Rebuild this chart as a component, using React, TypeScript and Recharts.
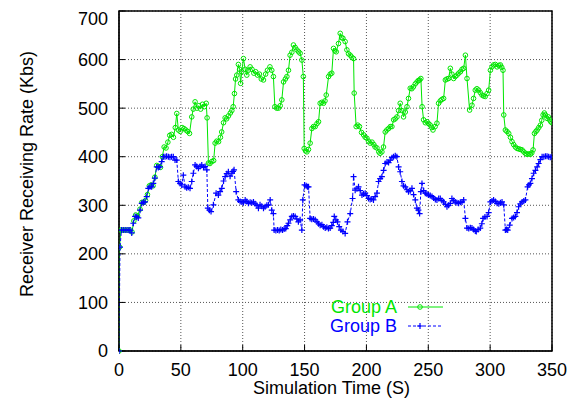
import { LineChart, Line, XAxis, YAxis, CartesianGrid, ReferenceArea } from 'recharts';

const GREEN = '#00e600';
const BLUE = '#0000ff';
const FONT = '"Liberation Sans", Arial, Helvetica, sans-serif';

const xTicks = [0, 50, 100, 150, 200, 250, 300, 350];
const yTicks = [0, 100, 200, 300, 400, 500, 600, 700];

// Group A samples (time in s, rate in Kbs)
const timeA = [
  0, 0.5, 1.5, 3, 5, 7, 9, 10.5, 12, 13.5, 15, 17, 18.5, 20, 21.5, 23, 24.5, 26, 27.5, 29,
  30.5, 32, 33.5, 35, 36.5, 38, 39.5, 41, 42.5, 44, 45.5, 46.7, 48, 49.5, 51, 52.5, 54, 55.5, 57, 58.8,
  60, 61.5, 63, 64.5, 66, 67.5, 69, 70.5, 71.2, 72.3, 73.5, 75, 76.5, 77.7, 79, 80.5, 82, 83, 84.5, 85.8,
  87, 88.5, 90, 91.2, 92.3, 93.3, 94.2, 95.2, 96.5, 97.5, 98.3, 99.2, 100.6, 102, 103.3, 104.5, 106, 107.5, 109, 110.5,
  112, 113.5, 115, 116.8, 118.5, 120, 122, 123.5, 124.8, 126, 127.5, 128.9, 130.3, 131.6, 133, 134.5, 135.7, 137, 138.3, 139.7,
  141, 142.4, 143.8, 145.2, 146.4, 147.8, 149, 149.7, 150.8, 151.9, 153.2, 154.5, 155.9, 157.2, 158.6, 160, 161.3, 162.6, 164, 165.3,
  166.5, 167.5, 169.4, 170.7, 172, 173.4, 174.5, 175.6, 177.4, 178.8, 180, 181, 182.8, 184.2, 185.5, 186.9, 188.2, 189.6, 190.1, 191.7,
  193, 194.4, 196, 197.7, 199, 200.4, 201.7, 203, 204.5, 206, 207, 208.5, 210, 211, 212.5, 213.8, 215.2, 216.5, 217.9, 219.3,
  220.6, 222, 223.3, 224.7, 226, 227.3, 228.7, 230, 231.4, 232.8, 234, 235.4, 236.7, 238, 239.5, 240.9, 242, 243, 244, 245,
  246.2, 247.6, 249, 250.3, 251.6, 252.8, 253.8, 255.5, 257, 258.3, 259.7, 261, 262.4, 263.8, 265.1, 266.4, 267.8, 269.1, 270.5, 271.8,
  273.2, 274.6, 276, 277.3, 278.6, 280, 281.3, 283.4, 285.3, 286.6, 288, 289.3, 290.7, 292, 293.4, 294.7, 296, 297.5, 298.8, 300.2,
  301.5, 302.8, 304.2, 305.6, 307, 308.3, 309.4, 310.4, 311, 312.3, 313.6, 315, 316.4, 317.7, 319, 320.4, 321.8, 323.2, 324.5, 325.8,
  327.2, 328.5, 329.8, 331.2, 332.5, 333.7, 334.7, 335.8, 337, 338, 339.3, 340.6, 341.7, 342.8, 343.8, 344.7, 346, 347, 348, 349,
  350,
];
const rateA = [
  0, 214, 249, 249, 249, 249, 249, 245, 268, 280, 278, 292, 306, 306, 310, 322, 340, 342, 340, 358,
  382, 380, 378, 400, 420, 418, 430, 444, 446, 440, 460, 489, 455, 452, 460, 458, 455, 452, 448, 482,
  498, 513, 500, 505, 498, 508, 503, 510, 480, 387, 386, 390, 392, 428, 432, 431, 440, 451, 470, 480,
  478, 484, 490, 495, 503, 530, 560, 568, 590, 580, 551, 575, 602, 580, 568, 578, 585, 580, 572, 575,
  568, 570, 560, 558, 570, 578, 585, 578, 565, 503, 500, 500, 505, 517, 554, 560, 565, 578, 609, 615,
  630, 625, 620, 616, 613, 599, 565, 417, 412, 410, 415, 428, 458, 462, 462, 468, 472, 510, 512, 510,
  515, 527, 565, 570, 572, 623, 618, 616, 633, 654, 645, 644, 637, 620, 612, 609, 605, 602, 531, 462,
  465, 462, 450, 445, 440, 438, 432, 428, 430, 425, 420, 418, 410, 407, 410, 420, 451, 455, 458, 462,
  462, 476, 478, 482, 495, 510, 495, 482, 492, 503, 520, 541, 540, 544, 550, 554, 557, 558, 561, 503,
  476, 470, 472, 468, 465, 460, 455, 462, 469, 510, 515, 518, 520, 558, 560, 561, 582, 570, 561, 565,
  568, 572, 575, 580, 582, 609, 561, 496, 506, 520, 537, 540, 537, 532, 527, 525, 524, 530, 537, 578,
  585, 589, 590, 585, 588, 589, 584, 578, 486, 455, 452, 448, 440, 431, 425, 420, 417, 416, 415, 414,
  410, 407, 405, 406, 405, 408, 414, 448, 452, 455, 460, 465, 475, 486, 490, 486, 479, 482, 476, 472,
  470,
];

// Group B samples (time in s, rate in Kbs)
const timeB = [
  0, 0.8, 2, 3.5, 5, 6.5, 8, 9, 10.3, 11.6, 13, 14.3, 15.6, 17, 18.4, 19.7, 21, 22.4, 23.7, 25,
  26.4, 27.7, 29, 30.5, 31.8, 33, 34.5, 35.9, 37.2, 38.5, 39.9, 41.2, 42.5, 43.9, 45.3, 46.7, 48, 49.4, 50.7, 52,
  53.4, 54.7, 56, 57.4, 58.8, 60.1, 61.5, 62.8, 64.2, 65.5, 66.9, 68.3, 69.6, 71, 71.8, 73.1, 74.4, 76.3, 78.5, 80.3,
  81.7, 83.1, 84.5, 85.8, 87.1, 88.4, 89.8, 91.2, 92.2, 93, 94.7, 96.5, 97.9, 99.3, 100.6, 102, 103.3, 104.6, 106, 107.3,
  108.7, 110, 111.4, 112.7, 114, 115.4, 116.8, 118.1, 119.5, 120.8, 122.2, 123.5, 124.8, 125.4, 126.8, 128.2, 129.5, 130.8, 132.2, 133.5,
  134.8, 136, 137, 138.4, 139.7, 141, 142.4, 143.7, 145, 146.4, 147.8, 148.6, 150, 151.3, 152.3, 153.2, 154.5, 155.8, 157.2, 158.6,
  160, 161.3, 162.6, 164, 165.3, 166.7, 168, 169.3, 170.7, 172, 173.2, 174, 175.3, 176.6, 178, 179.4, 181, 182.8, 184.7, 186.9,
  188.8, 189.6, 190.9, 192.3, 193.6, 195, 196.4, 197.7, 199, 200.4, 201.7, 203, 204.3, 205.7, 207, 208.5, 209.8, 211.1, 212.5, 213.9,
  215.2, 216.6, 217.9, 219.3, 220.6, 221.9, 223.3, 224.6, 226, 227.3, 228.7, 230, 231.4, 232.7, 234, 235.4, 236.8, 238.1, 239.5, 240.8,
  242, 243, 244, 244.9, 246.3, 247.6, 248.9, 250.2, 251.6, 253, 254.3, 255.7, 257, 258.4, 259.7, 261, 262.4, 263.8, 265.1, 266.4,
  267.8, 269.1, 270.5, 271.8, 273.2, 274.5, 275.9, 277.3, 278.6, 280, 281.3, 282.7, 284, 285.3, 286.6, 288, 288.8, 290.3, 292, 293.3,
  294.3, 295.8, 297.5, 298.8, 300.2, 301.5, 302.8, 304.2, 305.6, 307, 308.3, 309.6, 311, 312.3, 313.3, 314.2, 315.8, 317.7, 319, 320.4,
  321.7, 323, 324.4, 325.8, 327.2, 328.5, 330.3, 331.4, 332.5, 333.8, 335.2, 336.6, 338, 339.2, 340.6, 342, 343.4, 344.7, 346, 347.3,
  348.6, 350,
];
const rateB = [
  0, 214, 249, 249, 249, 249, 249, 249, 243, 263, 277, 276, 274, 290, 304, 306, 307, 318, 335, 338,
  338, 345, 356, 379, 378, 379, 390, 400, 400, 401, 400, 399, 400, 400, 393, 393, 349, 345, 342, 362,
  338, 336, 337, 335, 349, 366, 383, 380, 376, 380, 383, 378, 380, 373, 294, 290, 287, 301, 325, 321,
  328, 335, 350, 359, 365, 369, 360, 366, 370, 373, 328, 311, 308, 307, 305, 311, 308, 304, 306, 305,
  307, 303, 300, 294, 301, 298, 294, 297, 300, 301, 311, 290, 283, 249, 248, 249, 248, 250, 249, 251,
  252, 258, 263, 270, 277, 278, 277, 272, 266, 270, 249, 311, 342, 340, 338, 338, 273, 271, 272, 270,
  266, 262, 259, 260, 256, 253, 255, 252, 253, 258, 265, 277, 270, 266, 256, 249, 246, 242, 266, 283,
  314, 359, 331, 334, 338, 330, 321, 323, 325, 320, 314, 312, 313, 311, 318, 325, 349, 355, 359, 372,
  386, 389, 388, 393, 398, 400, 402, 400, 379, 369, 349, 340, 338, 332, 328, 330, 335, 322, 311, 294,
  290, 283, 328, 345, 330, 325, 323, 321, 320, 318, 315, 312, 311, 314, 314, 310, 307, 302, 297, 300,
  304, 314, 310, 307, 305, 304, 306, 307, 311, 273, 253, 252, 254, 253, 250, 247, 246, 250, 253, 262,
  273, 276, 277, 285, 307, 309, 311, 308, 304, 303, 305, 307, 301, 249, 250, 249, 259, 273, 275, 277,
  285, 297, 303, 307, 309, 311, 338, 342, 345, 355, 366, 372, 379, 386, 394, 400, 400, 401, 401, 400,
  399, 400,
];

const seriesA = timeA.map((t, i) => ({ t, rate: rateA[i] }));
const seriesB = timeB.map((t, i) => ({ t, rate: rateB[i] }));

const tickStyle = { fontSize: 18, fontFamily: FONT, fill: '#000' };

const circleDot = (props: any) => {
  const { cx, cy, index } = props;
  if (cx == null || cy == null) return <g key={`a-${index}`} />;
  return <circle key={`a-${index}`} cx={cx} cy={cy} r={2.3} fill="none" stroke={GREEN} strokeWidth={1} />;
};

const plusDot = (props: any) => {
  const { cx, cy, index } = props;
  if (cx == null || cy == null) return <g key={`b-${index}`} />;
  return (
    <path
      key={`b-${index}`}
      d={`M${cx - 3},${cy}H${cx + 3}M${cx},${cy - 3}V${cy + 3}`}
      stroke={BLUE}
      strokeWidth={1.2}
      fill="none"
    />
  );
};

const YTitle = (props: any) => {
  const vb = props.viewBox || {};
  const cy = vb.y + vb.height / 2 - 7;
  const x = 25;
  return (
    <text
      x={x}
      y={cy}
      transform={`rotate(-90, ${x}, ${cy})`}
      textAnchor="middle"
      fontSize={18}
      fontFamily={FONT}
      fill="#000"
    >
      Receiver Receiving Rate (Kbs)
    </text>
  );
};

const XTitle = (props: any) => {
  const vb = props.viewBox || {};
  return (
    <text x={vb.x + vb.width / 2 - 4} y={386} textAnchor="middle" fontSize={18} fontFamily={FONT} fill="#000">
      Simulation Time (S)
    </text>
  );
};

export default function App() {
  return (
    <div style={{ position: 'relative', width: 568, height: 392 }}>
      <LineChart width={568} height={392} margin={{ top: 3, right: 24, left: 0, bottom: 0 }}>
        <CartesianGrid
          xAxisId="main"
          yAxisId="main"
          stroke="#555"
          strokeDasharray="1 2"
          horizontalValues={yTicks}
          verticalValues={xTicks}
        />
        <XAxis
          xAxisId="main"
          dataKey="t"
          type="number"
          domain={[0, 350]}
          ticks={xTicks}
          allowDataOverflow
          height={49}
          tickSize={-6}
          tickMargin={18}
          tick={tickStyle}
          axisLine={{ stroke: '#000' }}
          tickLine={{ stroke: '#000' }}
          label={<XTitle />}
        />
        <XAxis
          xAxisId="top"
          orientation="top"
          dataKey="t"
          type="number"
          domain={[0, 350]}
          ticks={xTicks}
          height={0}
          tickSize={-6}
          tick={false}
          axisLine={{ stroke: '#000' }}
          tickLine={{ stroke: '#000' }}
        />
        <YAxis
          yAxisId="main"
          type="number"
          domain={[0, 700]}
          ticks={yTicks}
          width={111}
          tickSize={-6}
          tickMargin={17}
          tick={tickStyle}
          axisLine={{ stroke: '#000' }}
          tickLine={{ stroke: '#000' }}
          label={<YTitle />}
        />
        <YAxis
          yAxisId="right"
          orientation="right"
          type="number"
          domain={[0, 700]}
          ticks={yTicks}
          width={0}
          tickSize={-6}
          tick={false}
          axisLine={{ stroke: '#000' }}
          tickLine={{ stroke: '#000' }}
        />
        <ReferenceArea
          xAxisId="main"
          yAxisId="main"
          x1={0}
          x2={350}
          y1={0}
          y2={700}
          fill="none"
          stroke="#000"
          strokeWidth={1.5}
          ifOverflow="visible"
        />
        <Line
          xAxisId="main"
          yAxisId="main"
          data={seriesA}
          dataKey="rate"
          name="Group A"
          type="linear"
          stroke={GREEN}
          strokeWidth={1}
          dot={circleDot}
          activeDot={false}
          isAnimationActive={false}
        />
        <Line
          xAxisId="main"
          yAxisId="main"
          data={seriesB}
          dataKey="rate"
          name="Group B"
          type="linear"
          stroke={BLUE}
          strokeWidth={1}
          strokeDasharray="3 2"
          dot={plusDot}
          activeDot={false}
          isAnimationActive={false}
        />
      </LineChart>
      <svg
        width={568}
        height={392}
        style={{ position: 'absolute', left: 0, top: 0, pointerEvents: 'none' }}
      >
        <text x={389} y={305} textAnchor="end" fontSize={18} fontFamily={FONT} fill={GREEN}>
          Group A
        </text>
        <line x1={400} y1={299} x2={435} y2={299} stroke={GREEN} strokeWidth={1} />
        <circle cx={412} cy={299} r={2.3} fill="none" stroke={GREEN} strokeWidth={1} />
        <text x={389} y={324} textAnchor="end" fontSize={18} fontFamily={FONT} fill={BLUE}>
          Group B
        </text>
        <line x1={400} y1={318} x2={435} y2={318} stroke={BLUE} strokeWidth={1} strokeDasharray="3 2" />
        <path d="M409,318H415M412,315V321" stroke={BLUE} strokeWidth={1.2} />
      </svg>
    </div>
  );
}
